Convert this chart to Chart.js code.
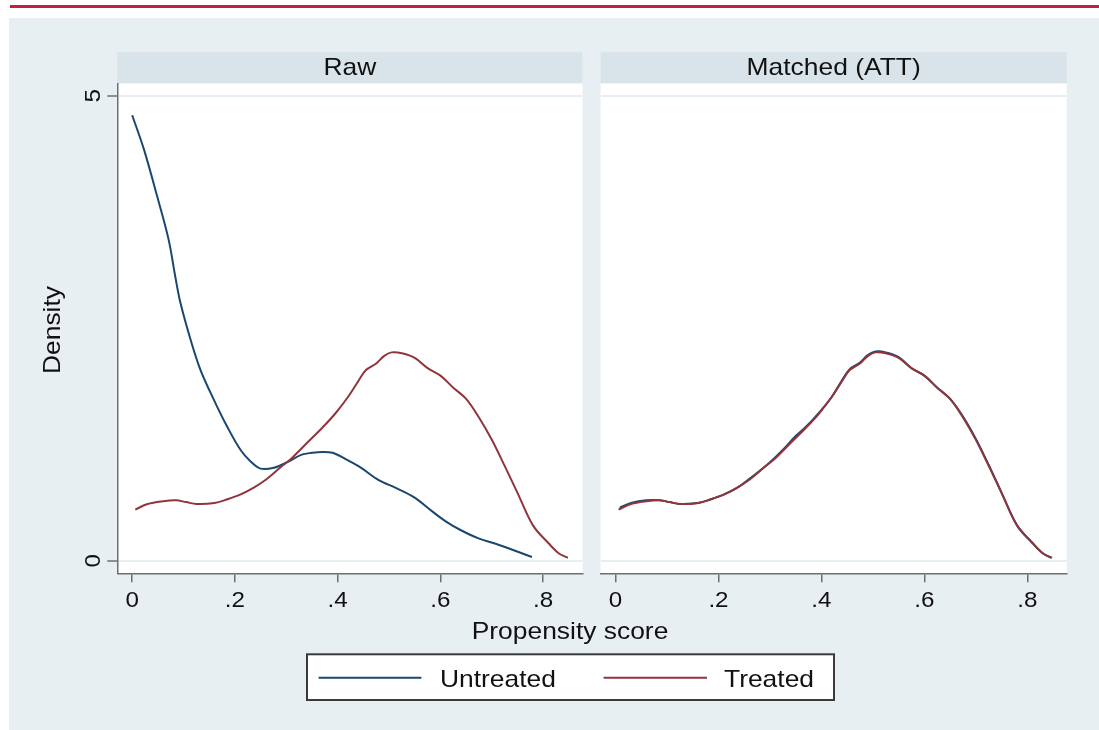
<!DOCTYPE html>
<html>
<head>
<meta charset="utf-8">
<title>Propensity score density, raw vs matched</title>
<script src="https://cdn.jsdelivr.net/npm/chart.js@4.4.1/dist/chart.umd.min.js"></script>
<style>
  html, body { margin: 0; padding: 0; background: #ffffff; width: 1099px; height: 730px; overflow: hidden; }
  #topRule { position: absolute; left: 10px; top: 5px; width: 1089px; height: 2.5px; background: #c5203b; }
  #graphRegion { position: absolute; left: 9px; top: 18px; right: 0; bottom: 0; background: #e8eff2; }
  canvas { position: absolute; left: 0; top: 0; }
</style>
</head>
<body>
<div id="topRule"></div>
<div id="graphRegion"></div>
<canvas id="rawPanel" width="1099" height="730"></canvas>
<canvas id="matchedPanel" width="1099" height="730"></canvas>
<script>
// ---- data -------------------------------------------------------------
const xTickValues = [0, 0.2, 0.4, 0.6, 0.8];
const xTickLabels = ['0', '.2', '.4', '.6', '.8'];
const yTickValues = [0, 5];
const yTickLabels = ['0', '5'];
const panelTitles = ['Raw', 'Matched (ATT)'];
const seriesNames = ['Untreated', 'Treated'];
const xAxisTitle = 'Propensity score';
const yAxisTitle = 'Density';

// treated group density (identical in both panels under ATT weighting)
const treatedScore = [0.006, 0.03, 0.06, 0.085, 0.105, 0.125, 0.16, 0.185, 0.21, 0.235, 0.26, 0.29, 0.31, 0.33, 0.35, 0.37, 0.395, 0.42, 0.44, 0.455, 0.475, 0.49, 0.505, 0.525, 0.55, 0.575, 0.6, 0.625, 0.65, 0.675, 0.7, 0.725, 0.75, 0.78, 0.81, 0.83, 0.848];
const treatedDensity = [0.55, 0.61, 0.64, 0.65, 0.63, 0.61, 0.62, 0.66, 0.71, 0.78, 0.87, 1.01, 1.10, 1.21, 1.32, 1.43, 1.58, 1.76, 1.93, 2.05, 2.12, 2.20, 2.24, 2.23, 2.18, 2.07, 1.99, 1.86, 1.74, 1.54, 1.30, 1.02, 0.73, 0.38, 0.19, 0.08, 0.03];

// untreated group, before matching
const rawUntreatedScore = [0.0, 0.023, 0.049, 0.071, 0.084, 0.094, 0.114, 0.133, 0.159, 0.185, 0.211, 0.23, 0.25, 0.276, 0.302, 0.33, 0.35, 0.37, 0.39, 0.416, 0.445, 0.479, 0.514, 0.549, 0.584, 0.611, 0.639, 0.674, 0.709, 0.744, 0.778];
const rawUntreatedDensity = [4.79, 4.42, 3.91, 3.45, 3.05, 2.77, 2.37, 2.05, 1.73, 1.44, 1.19, 1.07, 0.99, 1.00, 1.06, 1.14, 1.16, 1.17, 1.16, 1.09, 1.00, 0.87, 0.78, 0.68, 0.53, 0.42, 0.33, 0.24, 0.18, 0.11, 0.04];

// untreated group, after matching
const matchedUntreatedScore = [0.008, 0.03, 0.06, 0.085, 0.105, 0.125, 0.16, 0.185, 0.21, 0.235, 0.26, 0.29, 0.31, 0.33, 0.35, 0.37, 0.395, 0.42, 0.44, 0.455, 0.475, 0.49, 0.505, 0.525, 0.55, 0.575, 0.6, 0.625, 0.65, 0.675, 0.7, 0.725, 0.75, 0.78, 0.81, 0.83, 0.846];
const matchedUntreatedDensity = [0.57, 0.62, 0.65, 0.65, 0.63, 0.61, 0.62, 0.66, 0.71, 0.78, 0.88, 1.01, 1.11, 1.22, 1.34, 1.44, 1.59, 1.76, 1.94, 2.06, 2.13, 2.21, 2.25, 2.24, 2.19, 2.07, 1.99, 1.86, 1.74, 1.55, 1.31, 1.03, 0.73, 0.38, 0.19, 0.08, 0.03];

// ---- styling ----------------------------------------------------------
const untreatedColor = '#1a476f';
const treatedColor = '#90353b';
const axisColor = '#6e6e6e';
const faintGrid = '#e6eef1';
const stripColor = '#d8e4ea';
const textColor = '#111111';
const fontFamily = '"Liberation Sans", Arial, Helvetica, sans-serif';
const textStretch = 1.1;

const xMin = -0.029, xMax = 0.8765;
const yMin = -0.1355, yMax = 5.1333;
const stripTop = 52.3;

function pairs(xs, ys) { return xs.map((x, i) => ({ x: x, y: ys[i] })); }

// draws horizontally widened text, optionally rotated a quarter turn
function putText(ctx, text, x, y, size, align, rotate) {
  ctx.save();
  ctx.translate(x, y);
  if (rotate) ctx.rotate(-Math.PI / 2);
  ctx.scale(textStretch, 1);
  ctx.font = size + 'px ' + fontFamily;
  ctx.fillStyle = textColor;
  ctx.textAlign = align;
  ctx.textBaseline = 'alphabetic';
  ctx.fillText(text, 0, 0);
  ctx.restore();
}

// white plot region, title strip and x tick labels of each panel
const panelFrame = {
  id: 'panelFrame',
  beforeDraw(chart, args, opts) {
    const { ctx, chartArea: a } = chart;
    ctx.save();
    ctx.fillStyle = '#ffffff';
    ctx.fillRect(a.left, a.top, a.right - a.left, a.bottom - a.top);
    ctx.fillStyle = stripColor;
    ctx.fillRect(a.left, stripTop, a.right - a.left, a.top - stripTop);
    ctx.restore();
    putText(ctx, opts.title, (a.left + a.right) / 2, 74.5, 24, 'center', false);
  },
  afterDraw(chart) {
    const ctx = chart.ctx;
    const xs = chart.scales.x;
    xs.ticks.forEach((t, i) => {
      putText(ctx, xTickLabels[i], xs.getPixelForValue(t.value), 607, 22, 'center', false);
    });
  }
};

// y tick labels, axis titles and the shared key (drawn once, on the first panel)
const sharedDecor = {
  id: 'sharedDecor',
  afterDraw(chart) {
    const ctx = chart.ctx;
    const ys = chart.scales.y;
    ys.ticks.forEach((t, i) => {
      putText(ctx, yTickLabels[i], 100, ys.getPixelForValue(t.value), 22, 'center', true);
    });
    putText(ctx, yAxisTitle, 59.5, 330, 24, 'center', true);
    putText(ctx, xAxisTitle, 570, 639.3, 24, 'center', false);

    // key box
    const bx = 307, by = 654.3, bw = 527, bh = 45.7;
    ctx.save();
    ctx.fillStyle = '#ffffff';
    ctx.fillRect(bx, by, bw, bh);
    ctx.strokeStyle = '#3a3a3a';
    ctx.lineWidth = 2;
    ctx.strokeRect(bx, by, bw, bh);
    const ds = chart.data.datasets;
    const keyY = 677.7;
    const swatches = [[318.6, 421.4, 440], [603.6, 707, 724]];
    swatches.forEach((s, i) => {
      ctx.strokeStyle = ds[i].borderColor;
      ctx.lineWidth = 2;
      ctx.beginPath();
      ctx.moveTo(s[0], keyY);
      ctx.lineTo(s[1], keyY);
      ctx.stroke();
    });
    ctx.restore();
    swatches.forEach((s, i) => putText(ctx, seriesNames[i], s[2], 686.7, 24, 'left', false));
  }
};

function lineSet(label, data, color, order) {
  return {
    label: label,
    data: data,
    borderColor: color,
    backgroundColor: color,
    borderWidth: 2,
    pointRadius: 0,
    fill: false,
    tension: 0.35,
    order: order
  };
}

function makePanel(canvasId, title, untreated, withYAxis, padding, extraPlugins) {
  return new Chart(document.getElementById(canvasId), {
    type: 'line',
    data: {
      datasets: [
        lineSet(seriesNames[0], untreated, untreatedColor, 1),
        lineSet(seriesNames[1], pairs(treatedScore, treatedDensity), treatedColor, 0)
      ]
    },
    options: {
      responsive: false,
      devicePixelRatio: 1,
      animation: false,
      layout: { padding: padding },
      plugins: {
        legend: { display: false },
        tooltip: { enabled: false },
        title: { display: false },
        panelFrame: { title: title }
      },
      scales: {
        x: {
          type: 'linear',
          min: xMin,
          max: xMax,
          afterBuildTicks: s => { s.ticks = xTickValues.map(v => ({ value: v })); },
          afterFit: s => { s.height = 40; },
          grid: { drawOnChartArea: false, color: axisColor, tickColor: axisColor, tickLength: 9, lineWidth: 1.5, tickWidth: 1.5 },
          border: { display: true, color: axisColor, width: 1.5 },
          ticks: { display: false }
        },
        y: {
          type: 'linear',
          min: yMin,
          max: yMax,
          afterBuildTicks: s => { s.ticks = yTickValues.map(v => ({ value: v })); },
          afterFit: s => { s.width = withYAxis ? 10 : 0; },
          grid: { color: faintGrid, lineWidth: 2, tickColor: axisColor, tickWidth: 1.5, tickLength: 10, drawTicks: withYAxis },
          border: { display: withYAxis, color: axisColor, width: 1.5 },
          ticks: { display: false }
        }
      }
    },
    plugins: [panelFrame].concat(extraPlugins)
  });
}

makePanel('rawPanel', panelTitles[0], pairs(rawUntreatedScore, rawUntreatedDensity), true,
  { left: 107.3, right: 516.5, top: 83.3, bottom: 116.7 }, [sharedDecor]);
makePanel('matchedPanel', panelTitles[1], pairs(matchedUntreatedScore, matchedUntreatedDensity), false,
  { left: 600.6, right: 32.3, top: 83.3, bottom: 116.7 }, []);
</script>
</body>
</html>
